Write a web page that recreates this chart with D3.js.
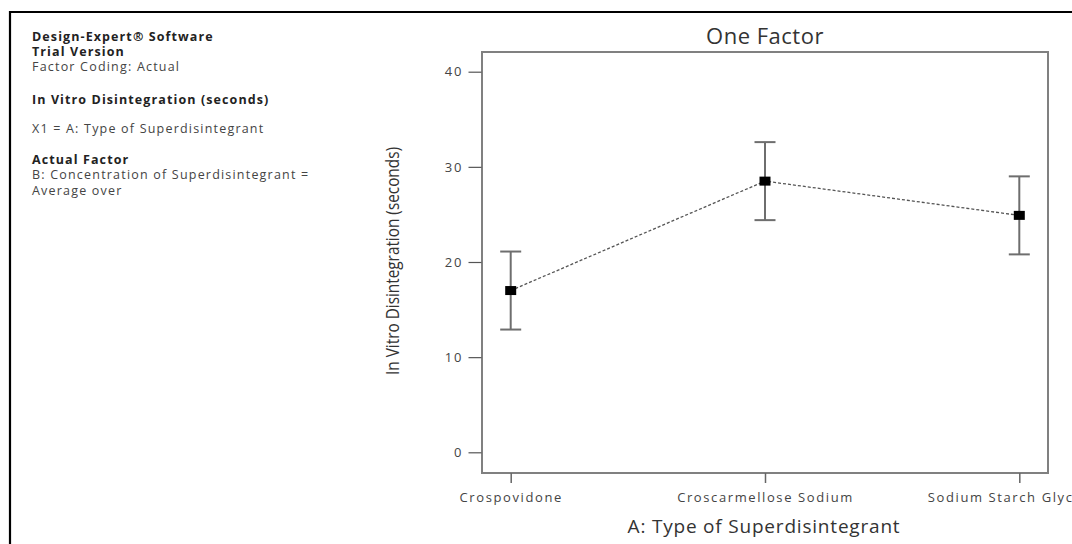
<!DOCTYPE html>
<html>
<head>
<meta charset="utf-8">
<script src="https://cdn.jsdelivr.net/npm/d3@7"></script>
<style>
  html, body { margin: 0; padding: 0; background: #fff; }
  svg { display: block; }
  text { font-family: "Open Sans", "Noto Sans", sans-serif; }
</style>
</head>
<body>
<svg id="chart" width="1072" height="544"></svg>
<script>
// One-factor effect plot: mean response with 95% CI bars per disintegrant type
const categories = ["Crospovidone", "Croscarmellose Sodium", "Sodium Starch Glycolate"];
const means = [17.0, 28.5, 24.9];
const lower = [12.9, 24.4, 20.8];
const upper = [21.1, 32.6, 29.0];
const yTicks = [0, 10, 20, 30, 40];

const notes = [
  { text: "Design-Expert\u00AE Software", bold: true, y: 41 },
  { text: "Trial Version", bold: true, y: 56 },
  { text: "Factor Coding: Actual", bold: false, y: 71 },
  { text: "In Vitro Disintegration (seconds)", bold: true, y: 104 },
  { text: "X1 = A: Type of Superdisintegrant", bold: false, y: 133 },
  { text: "Actual Factor", bold: true, y: 164 },
  { text: "B: Concentration of Superdisintegrant =", bold: false, y: 179 },
  { text: "Average over", bold: false, y: 195 }
];

const svg = d3.select("#chart");

// outer page frame (top and left edges)
svg.append("path")
  .attr("d", "M10,544 V12 H1072")
  .attr("fill", "none")
  .attr("stroke", "#000")
  .attr("stroke-width", 2.2);

// annotation block
svg.append("g").selectAll("text")
  .data(notes)
  .join("text")
  .attr("x", 32)
  .attr("y", d => d.y)
  .attr("font-family", "Lato, 'Open Sans', sans-serif")
  .attr("font-size", 12.5)
  .attr("letter-spacing", d => d.bold ? 1.1 : 1.2)
  .attr("font-weight", d => d.bold ? 700 : 400)
  .attr("fill", d => d.bold ? "#222" : "#444")
  .text(d => d.text);

// plot frame
const frame = { left: 482, right: 1048, top: 52, bottom: 473 };

const y = d3.scaleLinear().domain([0, 40]).range([452.3, 71.7]);
const x = d3.scalePoint().domain(categories).range([510.7, 1019.3]);

svg.append("rect")
  .attr("x", frame.left)
  .attr("y", frame.top)
  .attr("width", frame.right - frame.left)
  .attr("height", frame.bottom - frame.top)
  .attr("fill", "none")
  .attr("stroke", "#808080")
  .attr("stroke-width", 2);

// y axis
const yAxis = svg.append("g")
  .attr("transform", `translate(${frame.left - 0.5},0)`)
  .call(d3.axisLeft(y).tickValues(yTicks).tickSize(13).tickPadding(5));
yAxis.select(".domain").remove();
yAxis.selectAll(".tick line").attr("stroke", "#555").attr("stroke-width", 1.2);
yAxis.selectAll(".tick text")
  .attr("font-family", "'Open Sans', sans-serif")
  .attr("font-size", 13)
  .attr("letter-spacing", 2)
  .attr("fill", "#444");

// x axis
const xAxis = svg.append("g")
  .attr("transform", `translate(0,${frame.bottom})`)
  .call(d3.axisBottom(x).tickSize(10).tickPadding(10));
xAxis.select(".domain").remove();
xAxis.selectAll(".tick line").attr("stroke", "#666").attr("stroke-width", 1.5);
xAxis.selectAll(".tick text")
  .attr("font-family", "'Open Sans', sans-serif")
  .attr("font-size", 13)
  .attr("letter-spacing", 1.6)
  .attr("fill", "#444");

// titles
svg.append("text")
  .attr("x", (frame.left + frame.right) / 2)
  .attr("y", 44)
  .attr("text-anchor", "middle")
  .attr("font-size", 22)
  .attr("letter-spacing", 0.5)
  .attr("fill", "#333")
  .text("One Factor");

svg.append("text")
  .attr("x", 764)
  .attr("y", 533)
  .attr("text-anchor", "middle")
  .attr("font-size", 19)
  .attr("letter-spacing", 0.8)
  .attr("fill", "#333")
  .text("A: Type of Superdisintegrant");

svg.append("text")
  .attr("transform", "translate(399,261) rotate(-90)")
  .attr("text-anchor", "middle")
  .attr("font-size", 18)
  .attr("textLength", 228)
  .attr("lengthAdjust", "spacingAndGlyphs")
  .attr("fill", "#333")
  .text("In Vitro Disintegration (seconds)");

// dashed connecting line
const pts = categories.map((c, i) => ({ c, m: means[i], lo: lower[i], hi: upper[i] }));
svg.append("path")
  .datum(pts)
  .attr("d", d3.line().x(d => x(d.c)).y(d => y(d.m)))
  .attr("fill", "none")
  .attr("stroke", "#555")
  .attr("stroke-width", 1.3)
  .attr("stroke-dasharray", "3,2");

// error bars
const eb = svg.append("g").selectAll("g").data(pts).join("g")
  .attr("stroke", "#6e6e6e")
  .attr("stroke-width", 2);
eb.append("line")
  .attr("x1", d => x(d.c)).attr("x2", d => x(d.c))
  .attr("y1", d => y(d.hi)).attr("y2", d => y(d.lo));
eb.append("line")
  .attr("x1", d => x(d.c) - 10.5).attr("x2", d => x(d.c) + 10.5)
  .attr("y1", d => y(d.hi)).attr("y2", d => y(d.hi));
eb.append("line")
  .attr("x1", d => x(d.c) - 10.5).attr("x2", d => x(d.c) + 10.5)
  .attr("y1", d => y(d.lo)).attr("y2", d => y(d.lo));

// mean markers
svg.append("g").selectAll("rect").data(pts).join("rect")
  .attr("x", d => x(d.c) - 5.5)
  .attr("y", d => y(d.m) - 4.5)
  .attr("width", 11)
  .attr("height", 9)
  .attr("fill", "#000");
</script>
</body>
</html>
